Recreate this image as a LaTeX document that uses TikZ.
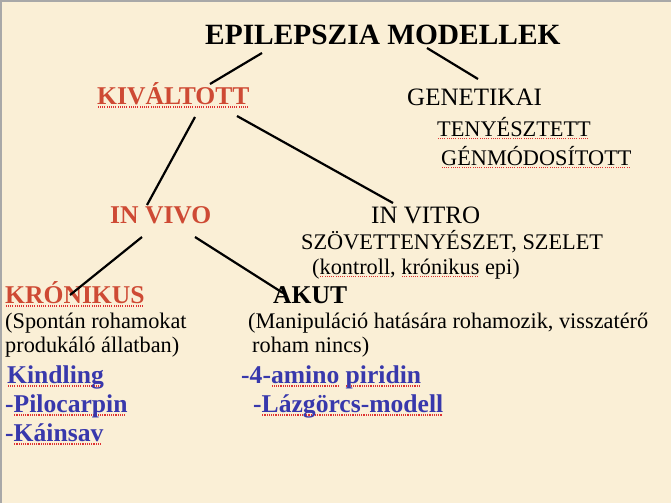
\documentclass[tikz,border=0pt]{standalone}
\usepackage{fontspec}
\setmainfont{Liberation Serif}
\newfontfamily\slidefont{Liberation Serif}
\usetikzlibrary{calc}

\definecolor{slidebg}{RGB}{250,239,214}
\definecolor{headred}{RGB}{206,74,52}
\definecolor{itemblue}{RGB}{56,56,172}
\definecolor{squigred}{RGB}{222,50,50}
\definecolor{framegray}{RGB}{168,168,168}

% dotted red underline
\newsavebox{\sqbox}
\newcommand{\squig}[1]{\sbox{\sqbox}{#1}\rlap{\textcolor{squigred}{\hbox to \wd\sqbox{\leaders\hbox to 2.2pt{\hss\rule[-0.14em]{1.1pt}{1.1pt}\hss}\hfill}}}\usebox{\sqbox}}

\begin{document}
\begin{tikzpicture}[x=1pt, y=-1pt,
		txt/.style={anchor=base west, inner sep=0pt},
		titlefont/.style={txt, font={\slidefont\fontsize{29.4}{32}\selectfont\bfseries}},
		head/.style={txt, text=headred, font={\slidefont\fontsize{25.6}{30}\selectfont\bfseries}},
		bold/.style={txt, font={\slidefont\fontsize{25.6}{30}\selectfont\bfseries}},
		plain/.style={txt, font={\slidefont\fontsize{25}{30}\selectfont}},
		sub/.style={txt, font={\slidefont\fontsize{22.3}{26}\selectfont}},
		item/.style={txt, text=itemblue, font={\slidefont\fontsize{25.6}{30}\selectfont\bfseries}},
		link/.style={line width=2.2pt, black}]
			% slide
			\fill[slidebg] (0,0) rectangle (671,503);
			\fill[framegray] (0,0) rectangle (671,2);
			\fill[framegray] (0,0) rectangle (1.5,503);
			\useasboundingbox (0,0) rectangle (671,503);

			\node[titlefont] (title) at (205,45) {EPILEPSZIA MODELLEK};
			\node[head] (kival) at (97,104) {\squig{KIVÁLTOTT}};
			\node[plain] (genet) at (407,105) {GENETIKAI};
			\node[sub] (teny) at (437,136) {\squig{TENYÉSZTETT}};
			\node[sub] (genmod) at (441,165) {\squig{GÉNMÓDOSÍTOTT}};
			\node[head] (invivo) at (110,223) {IN VIVO};
			\node[plain] (invitro) at (371,223) {IN VITRO};
			\node[sub] (szov) at (301,249) {SZÖVETTENYÉSZET, SZELET};
			\node[sub] (kontr) at (312,274) {(\squig{kontroll}, \squig{krónikus} epi)};
			\node[head] (kron) at (5,303) {\squig{KRÓNIKUS}};
			\node[bold] (akut) at (273,303) {AKUT};
			\node[sub] (spont) at (5,328) {(Spontán rohamokat};
			\node[sub] (prod) at (5,352) {produkáló állatban)};
			\node[sub] (manip) at (248,328) {(Manipuláció hatására rohamozik, visszatérő};
			\node[sub] (roham) at (252,352) {roham nincs)};
			\node[item] (kindl) at (7,383) {\squig{Kindling}};
			\node[item] (amino) at (241,383) {-4-\squig{amino} \squig{piridin}};
			\node[item] (piloc) at (5,412) {-\squig{Pilocarpin}};
			\node[item] (lazg) at (253,412) {-\squig{Lázgörcs-modell}};
			\node[item] (kains) at (5,441) {-\squig{Káinsav}};

			% tree
			\draw[link] ($(title.base west)+(57,8)$) -- ($(kival.base west)+(113,-20)$);
			\draw[link] ($(title.base west)+(222,3)$) -- ($(genet.base west)+(71,-26)$);
			\draw[link] ($(kival.base west)+(98,13)$) -- ($(invivo.base west)+(37,-18)$);
			\draw[link] ($(kival.base west)+(140,12)$) -- ($(invitro.base west)+(22,-20)$);
			\draw[link] ($(invivo.base west)+(32,14)$) -- ($(kron.base west)+(65,-8)$);
			\draw[link] ($(invivo.base west)+(85,14)$) -- ($(akut.base west)+(10,-10)$);
		\end{tikzpicture}
\end{document}
